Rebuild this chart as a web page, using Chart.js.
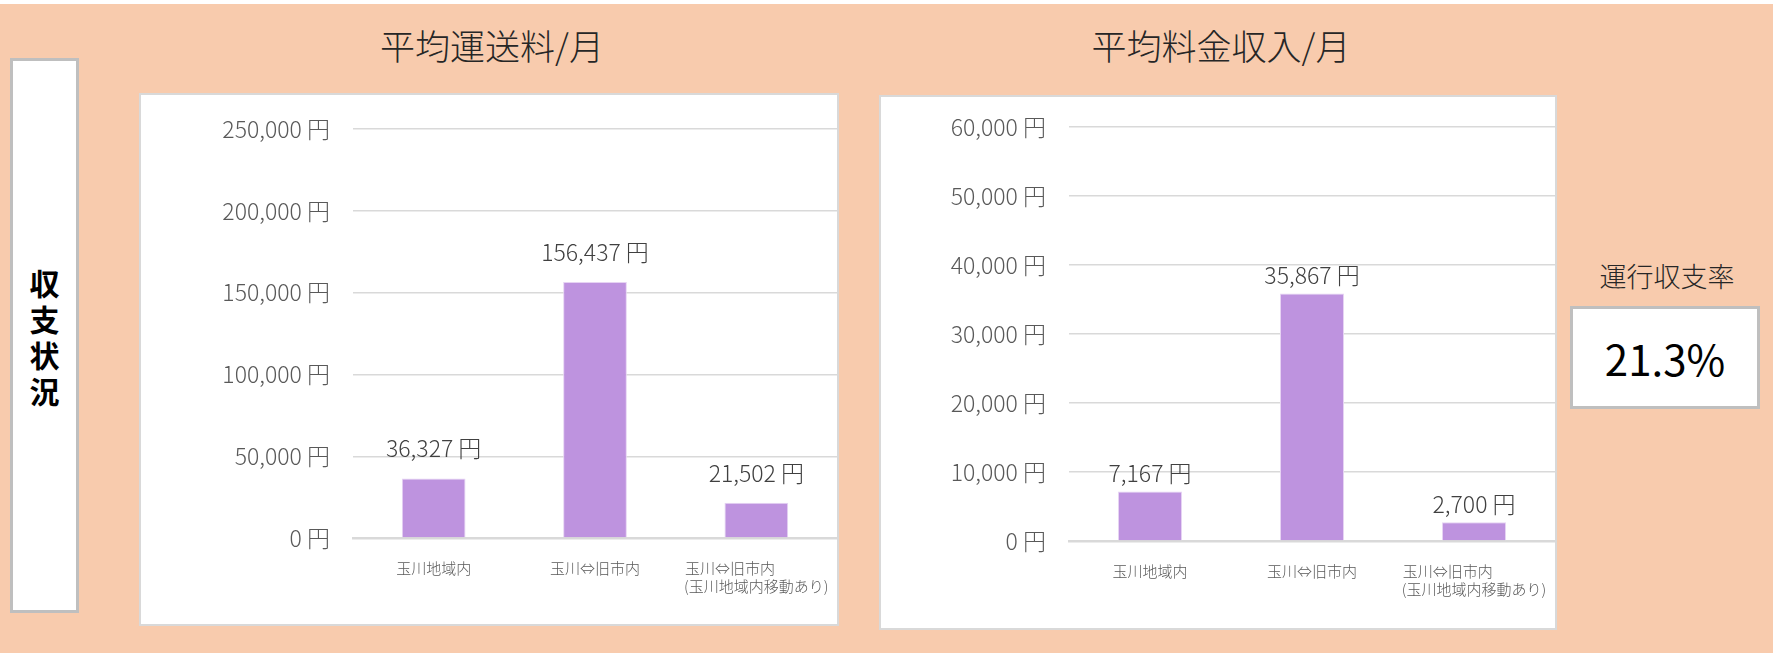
<!DOCTYPE html>
<html lang="ja">
<head>
<meta charset="utf-8">
<script src="https://cdn.jsdelivr.net/npm/chart.js@4.4.1/dist/chart.umd.min.js"></script>
<style>
  body { margin: 0; width: 1773px; height: 653px; background: #f8cbad; position: relative; overflow: hidden;
         font-family: "Noto Sans CJK JP", "Noto Sans", sans-serif; }
  .abs { position: absolute; }
  .topStrip { left: 0; top: 0; width: 1773px; height: 4px; background: #fff; }
  .side { left: 10px; top: 58px; width: 63px; height: 549px; background: #fff; border: 3px solid #bfbfbf;
          display: flex; align-items: center; justify-content: center; font-size: 30px; font-weight: bold;
          line-height: 36px; text-align: center; color: #000; }
  .title { top: 19px; font-size: 35px; font-weight: 300; color: #262626; transform: translateX(-50%); white-space: nowrap; }
  .panel { background: #fff; border: 2px solid #d9d9d9; }
  .rateLabel { left: 1667px; top: 256px; transform: translateX(-50%); font-size: 27px; font-weight: 300; color: #262626; white-space: nowrap; }
  .rateBox { left: 1570px; top: 306px; width: 184px; height: 97px; background: #fff; border: 3px solid #bfbfbf;
             display: flex; align-items: center; justify-content: center; font-size: 42px; color: #000; }
</style>
</head>
<body>
<div class="abs topStrip"></div>
<div class="abs side">収<br>支<br>状<br>況</div>

<div class="abs title" style="left:492px;">平均運送料/月</div>
<div class="abs title" style="left:1221px;">平均料金収入/月</div>

<div class="abs panel" style="left:139px; top:93px;">
  <canvas id="costChart" width="696" height="529"></canvas>
</div>
<div class="abs panel" style="left:879px; top:95px;">
  <canvas id="incomeChart" width="674" height="531"></canvas>
</div>

<div class="abs rateLabel">運行収支率</div>
<div class="abs rateBox">21.3%</div>

<script>
// categories (third one padded so its first line sits left like the original)
const categories = ['玉川地域内', '玉川⇔旧市内', ['玉川⇔旧市内　　　\u2002', '(玉川地域内移動あり)']];

// 平均運送料/月
const costValues = [36327, 156437, 21502];
const costTicks = [0, 50000, 100000, 150000, 200000, 250000];

// 平均料金収入/月
const incomeValues = [7167, 35867, 2700];
const incomeTicks = [0, 10000, 20000, 30000, 40000, 50000, 60000];

const BAR_COLOR = '#be93df';
const FONT = '"Noto Sans CJK JP", "Noto Sans", sans-serif';

function yen(v) {
  return String(v).replace(/\B(?=(\d{3})+(?!\d))/g, ',') + ' 円';
}

// draws the value above each bar
function valueLabels(offset) {
  return {
    id: 'valueLabels',
    afterDatasetsDraw(chart) {
      const ctx = chart.ctx;
      const meta = chart.getDatasetMeta(0);
      ctx.save();
      ctx.font = '300 23px ' + FONT;
      ctx.fillStyle = '#404040';
      ctx.textAlign = 'center';
      ctx.textBaseline = 'middle';
      meta.data.forEach((bar, i) => {
        ctx.fillText(yen(chart.data.datasets[0].data[i]), bar.x, bar.y - offset);
      });
      ctx.restore();
    }
  };
}

function makeChart(id, values, ticks, yAxisWidth, topPad, xAxisHeight, labelOffset) {
  const ctx = document.getElementById(id).getContext('2d');
  return new Chart(ctx, {
    type: 'bar',
    data: {
      labels: categories,
      datasets: [{
        data: values,
        backgroundColor: BAR_COLOR,
        borderColor: '#e6d3f3',
        borderWidth: 1,
        barPercentage: 0.395,
        categoryPercentage: 1.0
      }]
    },
    options: {
      responsive: false,
      animation: false,
      layout: { padding: { top: topPad, left: 0, right: 0, bottom: 0 } },
      plugins: { legend: { display: false }, tooltip: { enabled: false } },
      scales: {
        x: {
          grid: { display: false },
          border: { display: true, color: '#d9d9d9', width: 2.5 },
          ticks: {
            color: '#595959', font: { family: FONT, size: 15, weight: '300' },
            padding: 13, maxRotation: 0, autoSkip: false
          },
          afterFit(scale) {
            scale.height = xAxisHeight;
            scale.paddingLeft = 0;
            scale.paddingRight = 0;
          }
        },
        y: {
          min: ticks[0],
          max: ticks[ticks.length - 1],
          afterBuildTicks(scale) { scale.ticks = ticks.map(v => ({ value: v })); },
          grid: { color: '#d9d9d9', lineWidth: 1.4, drawTicks: false },
          border: { display: false },
          ticks: {
            color: '#595959', font: { family: FONT, size: 23, weight: '300' },
            padding: 23,
            callback: v => yen(v)
          },
          afterFit(scale) {
            scale.width = yAxisWidth;
            scale.paddingTop = 0;
            scale.paddingBottom = 0;
          }
        }
      }
    },
    plugins: [valueLabels(labelOffset)]
  });
}

makeChart('costChart', costValues, costTicks, 212, 34, 86, 30);
makeChart('incomeChart', incomeValues, incomeTicks, 188, 30, 87, 18);
</script>
</body>
</html>
